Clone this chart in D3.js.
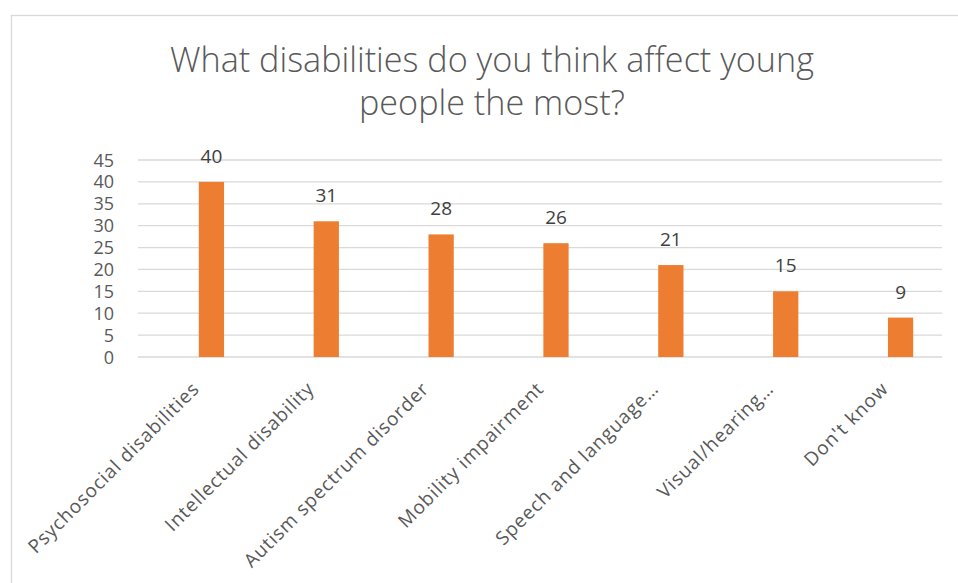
<!DOCTYPE html>
<html>
<head>
<meta charset="utf-8">
<script src="https://cdn.jsdelivr.net/npm/d3@7"></script>
<style>
  html, body { margin: 0; padding: 0; background: #ffffff; }
  svg { display: block; }
</style>
</head>
<body>
<div id="grafico"></div>
<script>
// Datos del gráfico
const categorias = [
  "Psychosocial disabilities",
  "Intellectual disability",
  "Autism spectrum disorder",
  "Mobility impairment",
  "Speech and language…",
  "Visual/hearing…",
  "Don't know"
];
const valores = [40, 31, 28, 26, 21, 15, 9];
const ticksY = [0, 5, 10, 15, 20, 25, 30, 35, 40, 45];
const tituloLineas = ["What disabilities do you think affect young", "people the most?"];

const ancho = 958;
const alto = 583;

const svg = d3.select("#grafico")
  .append("svg")
  .attr("width", ancho)
  .attr("height", alto);

// Borde del área del gráfico
svg.append("rect")
  .attr("x", 11.5)
  .attr("y", 15.5)
  .attr("width", 960)
  .attr("height", 600)
  .attr("fill", "#ffffff")
  .attr("stroke", "#d9d9d9")
  .attr("stroke-width", 1.3);

// Escalas
const y = d3.scaleLinear().domain([0, 45]).range([357, 160]);
const x = d3.scaleBand()
  .domain(categorias)
  .range([154, 958])
  .paddingInner(0.78)
  .paddingOuter(0.39);

// Líneas de cuadrícula
svg.append("g")
  .selectAll("line")
  .data(ticksY)
  .join("line")
  .attr("x1", 138)
  .attr("x2", 942)
  .attr("y1", d => y(d))
  .attr("y2", d => y(d))
  .attr("stroke", "#d9d9d9")
  .attr("stroke-width", 1.3);

// Etiquetas del eje Y
svg.append("g")
  .selectAll("text")
  .data(ticksY)
  .join("text")
  .attr("x", 114)
  .attr("y", d => y(d) + 6.5)
  .attr("text-anchor", "end")
  .attr("font-family", "'Open Sans', sans-serif")
  .attr("font-size", 18)
  .attr("fill", "#595959")
  .text(d => d);

// Barras
svg.append("g")
  .selectAll("rect")
  .data(valores)
  .join("rect")
  .attr("x", (d, i) => x(categorias[i]))
  .attr("y", d => y(d))
  .attr("width", x.bandwidth())
  .attr("height", d => y(0) - y(d))
  .attr("fill", "#ed7d31");

// Etiquetas de datos
svg.append("g")
  .selectAll("text")
  .data(valores)
  .join("text")
  .attr("x", (d, i) => x(categorias[i]) + x.bandwidth() / 2)
  .attr("y", d => y(d) - 19)
  .attr("text-anchor", "middle")
  .attr("font-family", "'Open Sans', sans-serif")
  .attr("font-size", 19)
  .attr("fill", "#404040")
  .text(d => d);

// Etiquetas de categorías (rotadas)
svg.append("g")
  .selectAll("text")
  .data(categorias)
  .join("text")
  .attr("transform", d => {
    const cx = x(d) + x.bandwidth() / 2 - 11;
    return `translate(${cx},390) rotate(-45)`;
  })
  .attr("text-anchor", "end")
  .attr("font-family", "'Open Sans', sans-serif")
  .attr("font-size", 19)
  .attr("letter-spacing", 0.9)
  .attr("fill", "#595959")
  .text(d => d);

// Título (condensado para parecerse a Calibri Light)
const tamTitulo = 34;
const titulo = svg.append("g")
  .selectAll("text")
  .data(tituloLineas)
  .join("text")
  .attr("x", 0)
  .attr("y", 0)
  .attr("text-anchor", "middle")
  .attr("font-family", "'Open Sans', sans-serif")
  .attr("font-weight", 300)
  .attr("font-size", tamTitulo)
  .attr("fill", "#595959")
  .text(d => d);

const largo = titulo.nodes()[0].getComputedTextLength();
const escalaX = 644 / largo;
titulo.attr("transform", (d, i) => `translate(492,${72 + i * 43}) scale(${escalaX},1)`);
</script>
</body>
</html>
